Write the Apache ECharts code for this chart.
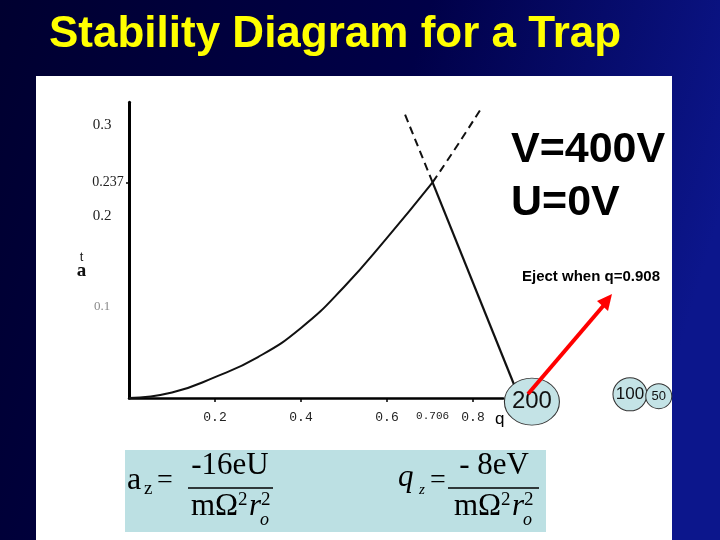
<!DOCTYPE html>
<html>
<head>
<meta charset="utf-8">
<script src="https://cdn.jsdelivr.net/npm/echarts@6/dist/echarts.min.js"></script>
<style>html,body{margin:0;padding:0;}#c{width:720px;height:540px;}</style>
</head>
<body>
<div id="c"></div>
<script>
// ---- data ----
const lowerQ = [0, 0.1, 0.2, 0.3, 0.4, 0.5, 0.6, 0.706];
const lowerA = [0, 0.006, 0.023, 0.045, 0.077, 0.122, 0.176, 0.237];
const lowerDashQ = [0.706, 0.76, 0.816];
const lowerDashA = [0.237, 0.275, 0.316];
const rightQ = [0.706, 0.908];
const rightA = [0.237, 0];
const rightDashQ = [0.706, 0.638];
const rightDashA = [0.237, 0.316];
const xTicks = [0.2, 0.4, 0.6, 0.706, 0.8];
const xTickMarks = [0.2, 0.4, 0.6, 0.8];
const yTicks = [0.1, 0.2, 0.237, 0.3];
const massLabels = ['200', '100', '50'];
const massQ = [0.937, 1.165, 1.232];
const massA = [-0.004, 0.004, 0.002];

const zip = (xs, ys) => xs.map((x, i) => [x, ys[i]]);
const massSizes = [[55, 47], [34, 33], [26, 25]];
const massFont = [24, 17, 13];

const chart = echarts.init(document.getElementById('c'));
const serif = '"Liberation Serif", "DejaVu Serif", serif';
const sans = '"Liberation Sans", Arial, sans-serif';

// grid 0 shows the axes; grid 1 has the same scale but a wider range so curves are not clipped
const lineBase = { type: 'line', symbol: 'none', smooth: true, clip: false, z: 5, xAxisIndex: 1, yAxisIndex: 1 };

chart.setOption({
  animation: false,
  backgroundColor: {
    type: 'linear', x: 0, y: 0, x2: 1, y2: 0.4,
    colorStops: [
      { offset: 0, color: '#000030' },
      { offset: 0.55, color: '#000048' },
      { offset: 1, color: '#0c168c' }
    ]
  },
  title: {
    text: 'Stability Diagram for a Trap',
    left: 49, top: 13, padding: 0,
    textStyle: { color: '#ffff00', fontSize: 44, fontWeight: 'bold', fontFamily: sans }
  },
  grid: [
    { left: 129, width: 374.1, top: 102.25, height: 295.75, containLabel: false },
    { left: 129, width: 559, top: 102.25, height: 295.75, containLabel: false }
  ],
  xAxis: [{
    type: 'value', min: 0, max: 0.87, gridIndex: 0,
    name: 'q', nameLocation: 'end', nameGap: -8,
    nameTextStyle: { fontSize: 17, color: '#000', fontFamily: sans, verticalAlign: 'top', padding: [13, 0, 0, 0] },
    splitLine: { show: false },
    axisLine: { lineStyle: { color: '#000', width: 2.5 } },
    axisTick: { show: true, customValues: xTickMarks, length: 4, lineStyle: { color: '#000', width: 1.5 } },
    axisLabel: {
      customValues: xTicks, margin: 13, color: '#222',
      fontFamily: '"Liberation Mono", "DejaVu Sans Mono", monospace', fontSize: 13,
      formatter: v => Math.abs(v - 0.706) < 1e-6 ? '{s|0.706}' : v.toFixed(1),
      rich: { s: { fontSize: 11, fontFamily: '"Liberation Mono", monospace', color: '#222', padding: [0, 0, 8, 0] } }
    }
  }, {
    type: 'value', min: 0, max: 1.3, gridIndex: 1, show: false
  }],
  yAxis: [{
    type: 'value', min: 0, max: 0.325, gridIndex: 0,
    name: '{t|t}\n{a|a}', nameLocation: 'middle', nameGap: 27, nameRotate: 0,
    nameTextStyle: {
      padding: [30, 0, 0, 0],
      rich: {
        t: { fontSize: 13, fontFamily: sans, color: '#222', align: 'center', lineHeight: 12 },
        a: { fontSize: 19, fontFamily: serif, fontWeight: 'bold', color: '#111', align: 'center', lineHeight: 16 }
      }
    },
    splitLine: { show: false },
    axisLine: { lineStyle: { color: '#000', width: 3 } },
    axisTick: { show: true, customValues: [0.237], length: 3, lineStyle: { color: '#000', width: 1.5 } },
    axisLabel: {
      customValues: yTicks, margin: 27, align: 'center', color: '#222',
      fontFamily: serif, fontSize: 15,
      formatter: v => Math.abs(v - 0.1) < 1e-6 ? '{g|0.1}' : (Math.abs(v - 0.237) < 1e-6 ? '{m|0.237}' : v.toFixed(1)),
      rich: {
        g: { color: '#8a8a8a', fontSize: 13, fontFamily: serif },
        m: { color: '#222', fontSize: 14, fontFamily: serif, padding: [0, 0, 0, 12] }
      }
    }
  }, {
    type: 'value', min: 0, max: 0.325, gridIndex: 1, show: false
  }],
  graphic: [
    { type: 'rect', z: -10, shape: { x: 36, y: 76, width: 636, height: 464 }, style: { fill: '#ffffff' } },
    { type: 'text', z: 10, style: { text: 'V=400V', x: 511, y: 150, font: 'bold 43px "Liberation Sans", Arial, sans-serif', fill: '#000', verticalAlign: 'middle' } },
    { type: 'text', z: 10, style: { text: 'U=0V', x: 511, y: 203, font: 'bold 43px "Liberation Sans", Arial, sans-serif', fill: '#000', verticalAlign: 'middle' } },
    { type: 'text', z: 10, style: { text: 'Eject when q=0.908', x: 522, y: 277, font: 'bold 15px "Liberation Sans", Arial, sans-serif', fill: '#000', verticalAlign: 'middle' } },
    // red arrow
    { type: 'line', z: 20, shape: { x1: 528, y1: 394, x2: 604, y2: 305 }, style: { stroke: '#ff0000', lineWidth: 4 } },
    { type: 'polygon', z: 20, shape: { points: [[612, 294], [597, 301], [608, 311]] }, style: { fill: '#ff0000' } },
    // formula box
    { type: 'rect', z: -5, shape: { x: 125, y: 450, width: 421, height: 82 }, style: { fill: '#bce0e3' } },
    { type: 'text', style: { text: 'a', x: 127, y: 481, font: '32px ' + serif, fill: '#000', verticalAlign: 'middle' } },
    { type: 'text', style: { text: 'z', x: 144, y: 489, font: '19px ' + serif, fill: '#000', verticalAlign: 'middle' } },
    { type: 'text', style: { text: '=', x: 157, y: 481, font: '28px ' + serif, fill: '#000', verticalAlign: 'middle' } },
    { type: 'text', style: { text: '-16eU', x: 230, y: 466, font: '31px ' + serif, fill: '#000', align: 'center', verticalAlign: 'middle' } },
    { type: 'line', shape: { x1: 188, y1: 488, x2: 273, y2: 488 }, style: { stroke: '#000', lineWidth: 1.5 } },
    { type: 'text', style: { text: 'mΩ', x: 191, y: 507, font: '31px ' + serif, fill: '#000', verticalAlign: 'middle' } },
    { type: 'text', style: { text: '2', x: 238, y: 500, font: '19px ' + serif, fill: '#000', verticalAlign: 'middle' } },
    { type: 'text', style: { text: 'r', x: 249, y: 507, font: 'italic 31px ' + serif, fill: '#000', verticalAlign: 'middle' } },
    { type: 'text', style: { text: '2', x: 261, y: 500, font: '19px ' + serif, fill: '#000', verticalAlign: 'middle' } },
    { type: 'text', style: { text: 'o', x: 260, y: 520, font: 'italic 18px ' + serif, fill: '#000', verticalAlign: 'middle' } },
    { type: 'text', style: { text: 'q', x: 398, y: 478, font: 'italic 31px ' + serif, fill: '#000', verticalAlign: 'middle' } },
    { type: 'text', style: { text: 'z', x: 419, y: 490, font: 'italic 15px ' + serif, fill: '#000', verticalAlign: 'middle' } },
    { type: 'text', style: { text: '=', x: 430, y: 481, font: '28px ' + serif, fill: '#000', verticalAlign: 'middle' } },
    { type: 'text', style: { text: '- 8eV', x: 494, y: 466, font: '31px ' + serif, fill: '#000', align: 'center', verticalAlign: 'middle' } },
    { type: 'line', shape: { x1: 448, y1: 488, x2: 539, y2: 488 }, style: { stroke: '#000', lineWidth: 1.5 } },
    { type: 'text', style: { text: 'mΩ', x: 454, y: 507, font: '31px ' + serif, fill: '#000', verticalAlign: 'middle' } },
    { type: 'text', style: { text: '2', x: 501, y: 500, font: '19px ' + serif, fill: '#000', verticalAlign: 'middle' } },
    { type: 'text', style: { text: 'r', x: 512, y: 507, font: 'italic 31px ' + serif, fill: '#000', verticalAlign: 'middle' } },
    { type: 'text', style: { text: '2', x: 524, y: 500, font: '19px ' + serif, fill: '#000', verticalAlign: 'middle' } },
    { type: 'text', style: { text: 'o', x: 523, y: 520, font: 'italic 18px ' + serif, fill: '#000', verticalAlign: 'middle' } }
  ],
  series: [
    Object.assign({}, lineBase, { data: zip(lowerQ, lowerA), lineStyle: { color: '#111', width: 2 } }),
    Object.assign({}, lineBase, { data: zip(lowerDashQ, lowerDashA), lineStyle: { color: '#111', width: 2, type: [8, 5] } }),
    Object.assign({}, lineBase, { smooth: false, data: zip(rightQ, rightA), lineStyle: { color: '#111', width: 2.2 } }),
    Object.assign({}, lineBase, { smooth: false, data: zip(rightDashQ, rightDashA), lineStyle: { color: '#111', width: 2, type: [8, 5] } }),
    {
      type: 'scatter', clip: false, z: 8, xAxisIndex: 1, yAxisIndex: 1,
      data: massLabels.map((m, i) => ({
        name: m, value: [massQ[i], massA[i]], symbolSize: massSizes[i],
        label: { fontSize: massFont[i] }
      })),
      itemStyle: { color: '#c4e3e6', borderColor: '#333', borderWidth: 1, opacity: 1 },
      label: { show: true, position: 'inside', formatter: p => p.name, color: '#111', fontFamily: sans }
    }
  ]
});
</script>
</body>
</html>
